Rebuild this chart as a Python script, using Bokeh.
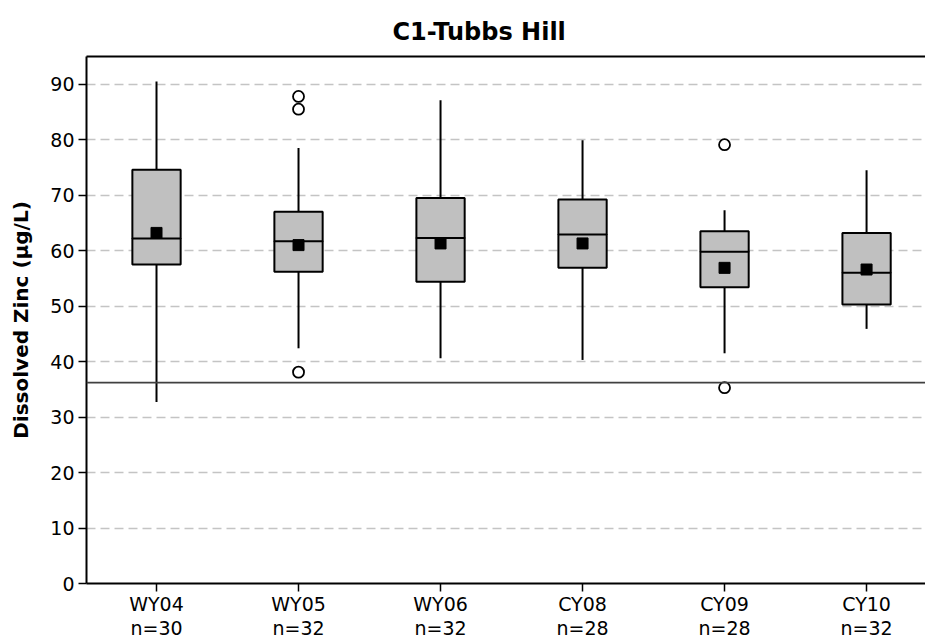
from bokeh.plotting import figure
from bokeh.models import ColumnDataSource, FixedTicker, Span, Range1d, LinearAxis
from bokeh.embed import file_html
from bokeh.resources import INLINE

categories = ["WY04", "WY05", "WY06", "CY08", "CY09", "CY10"]
counts = [30, 32, 32, 28, 28, 32]
whisker_low = [32.7, 42.4, 40.6, 40.3, 41.5, 45.9]
q1 = [57.5, 56.2, 54.4, 56.9, 53.4, 50.3]
median = [62.2, 61.7, 62.3, 62.9, 59.8, 56.0]
q3 = [74.6, 67.0, 69.5, 69.2, 63.5, 63.2]
whisker_high = [90.5, 78.5, 87.1, 79.9, 67.3, 74.5]
means = [63.2, 61.0, 61.3, 61.3, 56.9, 56.6]
outlier_cat = ["WY05", "WY05", "WY05", "CY09", "CY09"]
outlier_val = [38.1, 85.5, 87.8, 35.3, 79.1]
reference_level = 36.2
y_ticks = [0, 10, 20, 30, 40, 50, 60, 70, 80, 90]

FONT = "DejaVu Sans"
xpos = list(range(1, len(categories) + 1))
pos_of = dict(zip(categories, xpos))

src = ColumnDataSource(dict(x=xpos, lo=whisker_low, q1=q1, med=median, q3=q3,
                            hi=whisker_high, mean=means))
osrc = ColumnDataSource(dict(x=[pos_of[c] for c in outlier_cat], y=outlier_val))

p = figure(width=925, height=641, output_backend="svg", toolbar_location=None,
           x_range=Range1d(0.507, 6.415), y_range=Range1d(0, 95),
           min_border_left=86, min_border_right=0, min_border_top=56, min_border_bottom=57)

p.title.text = "C1-Tubbs Hill"
p.title.align = "left"
p.title.offset = 306
p.title.standoff = 22
p.title.text_font = FONT
p.title.text_font_style = "bold"
p.title.text_font_size = "24px"
p.title.text_color = "black"

p.outline_line_color = None

xb = p.below[0]
yl = p.left[0]

# top border of the plot frame (plain line, no ticks or labels)
top = LinearAxis(ticker=FixedTicker(ticks=[]), major_label_text_font_size="0px",
                 axis_line_color="black", axis_line_width=2,
                 major_tick_line_color=None, minor_tick_line_color=None,
                 major_label_standoff=0)
p.add_layout(top, "above")

# whiskers
p.segment(x0="x", y0="lo", x1="x", y1="hi", source=src, line_color="black", line_width=2)
# boxes
p.vbar(x="x", width=0.34, bottom="q1", top="q3", source=src,
       fill_color="#C0C0C0", line_color="black", line_width=2)
# medians
p.rect(x="x", y="med", width=0.34, height=0.001, source=src,
       fill_alpha=0, line_color="black", line_width=2)
# means
p.scatter(x="x", y="mean", source=src, marker="square", size=11,
          fill_color="black", line_color="black")
# outliers
p.scatter(x="x", y="y", source=osrc, marker="circle", size=11,
          fill_color="white", line_color="black", line_width=1.8)

p.add_layout(Span(location=reference_level, dimension="width",
                  line_color="#404040", line_width=1.8))

p.xgrid.visible = False
p.ygrid.ticker = FixedTicker(ticks=y_ticks[1:])
p.ygrid.grid_line_color = "#C4C4C4"
p.ygrid.grid_line_width = 1.5
p.ygrid.grid_line_dash = "9 5"

yl.ticker = FixedTicker(ticks=y_ticks)
xb.ticker = FixedTicker(ticks=xpos)
xb.major_label_overrides = {x: f"{c}\nn={n}" for x, c, n in zip(xpos, categories, counts)}

for ax in (xb, yl):
    ax.axis_line_color = "black"
    ax.axis_line_width = 2
    ax.major_tick_line_color = "black"
    ax.major_tick_line_width = 1.5
    ax.major_tick_out = 8
    ax.major_tick_in = 0
    ax.minor_tick_line_color = None
    ax.major_label_text_font = FONT
    ax.major_label_text_font_size = "19px"
    ax.major_label_text_color = "black"

xb.major_label_text_line_height = 1.1
yl.major_label_standoff = 4
xb.major_label_standoff = 1
yl.axis_label = "Dissolved Zinc (µg/L)"
yl.axis_label_text_font = FONT
yl.axis_label_text_font_style = "bold"
yl.axis_label_text_font_size = "20px"
yl.axis_label_text_color = "black"
yl.axis_label_standoff = 14

open("out.html", "w").write(file_html(p, INLINE))
